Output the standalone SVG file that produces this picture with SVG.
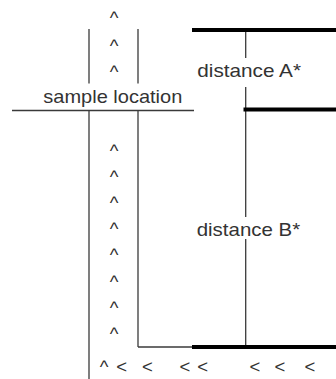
<svg xmlns="http://www.w3.org/2000/svg" width="336" height="379" viewBox="0 0 336 379">
<style>
.thin{stroke:#3a3a3a;stroke-width:1.3;fill:none}
.thick{stroke:#000;stroke-width:4;fill:none}
text{font-family:"Liberation Sans",Arial,sans-serif;font-size:18.5px;fill:#333}
.c{text-anchor:middle}
</style>
<rect width="336" height="379" fill="#fff"/>
<g id="connectors">
<line class="thin" x1="89" y1="29" x2="89" y2="83.5"/>
<line class="thin" x1="138" y1="29" x2="138" y2="83.5"/>
<line class="thin" x1="12" y1="110.5" x2="194" y2="110.5"/>
<line class="thin" x1="89" y1="111" x2="89" y2="379"/>
<line class="thin" x1="138" y1="111" x2="138" y2="347"/>
<line class="thin" x1="138" y1="347" x2="192" y2="347"/>
<line class="thin" x1="245.7" y1="30" x2="245.7" y2="58"/>
<line class="thin" x1="245.7" y1="87" x2="245.7" y2="217"/>
<line class="thin" x1="245.7" y1="239" x2="245.7" y2="347"/>
<line class="thick" x1="192" y1="30" x2="336" y2="30"/>
<line class="thick" x1="243.5" y1="109.5" x2="336" y2="109.5"/>
<line class="thick" x1="192" y1="347" x2="336" y2="347"/>
</g>
<g id="sample-location">
<text x="43.3" y="103.3" textLength="139" lengthAdjust="spacingAndGlyphs">sample location</text>
</g>
<g id="distance-a">
<text x="197.3" y="76.7" textLength="103.7" lengthAdjust="spacingAndGlyphs">distance A*</text>
</g>
<g id="distance-b">
<text x="196.7" y="235.5" textLength="103.5" lengthAdjust="spacingAndGlyphs">distance B*</text>
</g>
<g id="flow-up">
<text class="c" x="114" y="24">^</text>
<text class="c" x="114" y="51.5">^</text>
<text class="c" x="114" y="77.5">^</text>
<text class="c" x="114" y="156.5">^</text>
<text class="c" x="114" y="182.7">^</text>
<text class="c" x="114" y="208.9">^</text>
<text class="c" x="114" y="235.1">^</text>
<text class="c" x="114" y="261.3">^</text>
<text class="c" x="114" y="287.5">^</text>
<text class="c" x="114" y="313.7">^</text>
<text class="c" x="114" y="339.9">^</text>
</g>
<g id="flow-left">
<text class="c" y="372.5"><tspan x="104">^</tspan><tspan x="121.7">&lt;</tspan><tspan x="147.3">&lt;</tspan><tspan x="185">&lt;</tspan><tspan x="202.7">&lt;</tspan><tspan x="255">&lt;</tspan><tspan x="280">&lt;</tspan><tspan x="310">&lt;</tspan></text>
</g>
</svg>
